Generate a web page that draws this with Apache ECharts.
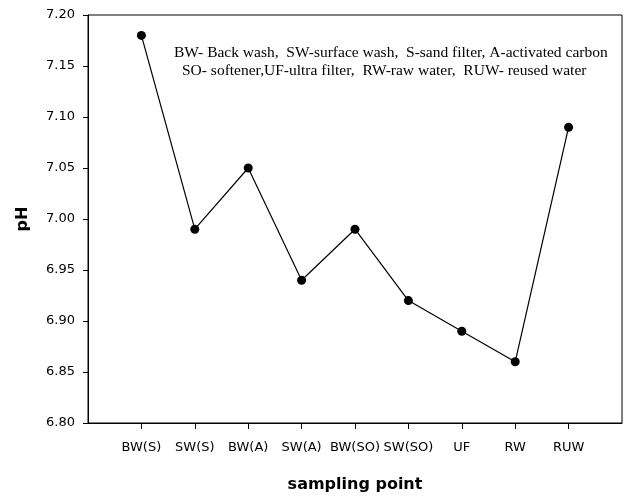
<!DOCTYPE html>
<html>
<head>
<meta charset="utf-8">
<script src="https://cdn.jsdelivr.net/npm/echarts@6/dist/echarts.min.js"></script>
<style>
  html, body { margin: 0; padding: 0; background: #fff; }
  #chart { width: 628px; height: 500px; }
</style>
</head>
<body>
<div id="chart"></div>
<script>
// sampling points along the treatment line
const categories = ['BW(S)', 'SW(S)', 'BW(A)', 'SW(A)', 'BW(SO)', 'SW(SO)', 'UF', 'RW', 'RUW']
const phValues = [7.18, 6.99, 7.05, 6.94, 6.99, 6.92, 6.89, 6.86, 7.09]
const yTicks = [6.80, 6.85, 6.90, 6.95, 7.00, 7.05, 7.10, 7.15, 7.20]
const notes = [
  'BW- Back wash,  SW-surface wash,  S-sand filter, A-activated carbon',
  'SO- softener,UF-ultra filter,  RW-raw water,  RUW- reused water'
]

const positions = categories.map((c, i) => i + 1)
const points = phValues.map((v, i) => [positions[i], v])

const myChart = echarts.init(document.getElementById('chart'))
myChart.setOption({
  animation: false,
  backgroundColor: '#fff',
  grid: {
    left: 88,
    right: 6,
    top: 15,
    bottom: 77,
    show: true,
    borderColor: '#000',
    borderWidth: 1
  },
  xAxis: {
    type: 'value',
    min: 0,
    max: categories.length + 1,
    name: 'sampling point',
    nameLocation: 'middle',
    nameGap: 54,
    nameTextStyle: {
      fontFamily: 'DejaVu Sans',
      fontWeight: 'bold',
      fontSize: 16,
      color: '#000'
    },
    axisLine: { show: true, lineStyle: { color: '#000', width: 1 } },
    axisTick: {
      show: true,
      inside: false,
      length: 6,
      customValues: positions,
      lineStyle: { color: '#000' }
    },
    axisLabel: {
      customValues: positions,
      margin: 18,
      fontFamily: 'DejaVu Sans',
      fontSize: 13,
      color: '#000',
      formatter: function(value) {
        return categories[Math.round(value) - 1] || ''
      }
    },
    splitLine: { show: false }
  },
  yAxis: {
    type: 'value',
    min: yTicks[0],
    max: yTicks[yTicks.length - 1],
    interval: 0.05,
    name: 'pH',
    nameLocation: 'middle',
    nameGap: 57,
    nameRotate: 90,
    nameTextStyle: {
      fontFamily: 'DejaVu Sans',
      fontWeight: 'bold',
      fontSize: 16,
      color: '#000'
    },
    axisLine: { show: true, lineStyle: { color: '#000', width: 1 } },
    axisTick: { show: true, inside: false, length: 5, lineStyle: { color: '#000' } },
    axisLabel: {
      margin: 13,
      fontFamily: 'DejaVu Sans',
      fontSize: 13,
      color: '#000',
      formatter: function(value) {
        return value.toFixed(2)
      }
    },
    splitLine: { show: false }
  },
  graphic: [
    {
      type: 'text',
      left: 174,
      top: 45,
      style: {
        text: notes[0],
        fontFamily: 'Liberation Serif',
        fontSize: 15.5,
        fill: '#000'
      }
    },
    {
      type: 'text',
      left: 182,
      top: 63,
      style: {
        text: notes[1],
        fontFamily: 'Liberation Serif',
        fontSize: 15.5,
        fill: '#000'
      }
    }
  ],
  series: [{
    type: 'line',
    data: points,
    symbol: 'circle',
    symbolSize: 9,
    showAllSymbol: true,
    lineStyle: { color: '#000', width: 1.2 },
    itemStyle: { color: '#000' }
  }]
})
</script>
</body>
</html>
